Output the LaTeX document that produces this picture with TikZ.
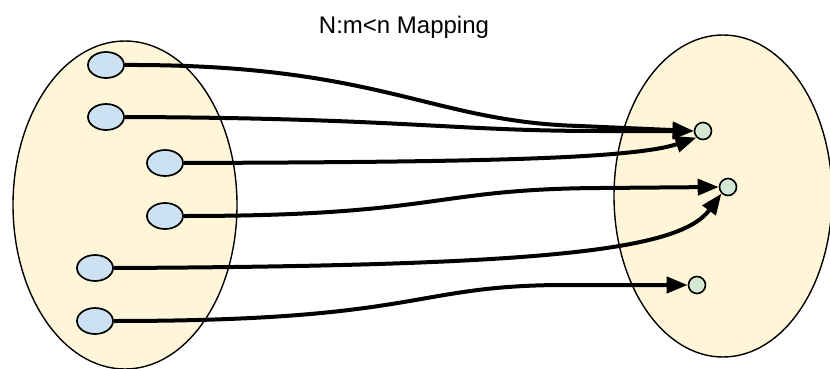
\documentclass[tikz,border=0pt]{standalone}
\usepackage{fontspec}
\setmainfont{Liberation Sans}
\usetikzlibrary{arrows.meta,shapes.geometric}
\definecolor{setfill}{HTML}{FFF6DA}
\definecolor{srcfill}{HTML}{CCE2F3}
\definecolor{dstfill}{HTML}{D5E8D4}
\begin{document}
\begin{tikzpicture}[x=1pt,y=-1pt,
  src/.style={draw=black,line width=1.7pt,fill=srcfill,ellipse,inner sep=0pt,minimum width=36pt,minimum height=26pt},
  dst/.style={draw=black,line width=1.6pt,fill=dstfill,circle,inner sep=0pt,minimum size=17pt},
  link/.style={line width=4pt,-{Triangle[length=21pt,width=16pt]}}
]
\useasboundingbox (0,0) rectangle (830,369);
\fill[white] (0,0) rectangle (830,369);
\draw[line width=1.4pt,fill=setfill] (125,205) ellipse [x radius=112, y radius=164];
\draw[line width=1.4pt,fill=setfill] (723,196) ellipse [x radius=109, y radius=161];
\node (title) at (404,27) {\fontsize{24}{28}\selectfont N:m<n Mapping};
\node[src] (b1) at (106,65) {};
\node[src] (b2) at (106,117) {};
\node[src] (b3) at (165,163) {};
\node[src] (b4) at (165,216) {};
\node[src] (b5) at (95,268) {};
\node[src] (b6) at (95,321) {};
\node[dst] (A) at (703,131) {};
\node[dst] (B) at (728,187) {};
\node[dst] (C) at (697,285) {};
\draw[link] (b2.east) .. controls (400,118) and (450,131) .. (600,131) -- (A.west);
\draw[link] (b1.east) .. controls (380,64) and (430,122) .. (580,126) -- (A.west);
\draw[link] (b3.east) .. controls (450,162) and (630,160) .. (A.south west);
\draw[link] (b4.east) .. controls (440,216) and (430,189) .. (600,188) -- (B.west);
\draw[link] (b5.east) .. controls (550,266) and (680,250) .. (B.south west);
\draw[link] (b6.east) .. controls (420,321) and (410,286) .. (560,285) -- (C.west);
\end{tikzpicture}
\end{document}
